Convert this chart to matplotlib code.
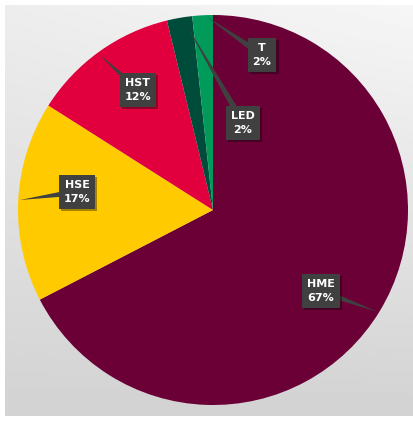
import numpy as np
import matplotlib
matplotlib.use("Agg")
import matplotlib.pyplot as plt
from matplotlib.patches import Polygon
import matplotlib.patheffects as pe

# ---- data ----
categories = ["HME", "HSE", "HST", "LED", "T"]
values = [67.4, 16.6, 12.2, 2.1, 1.7]
colors = ["#6B0036", "#FFCB00", "#E1003D", "#004C3A", "#009B5B"]
# label box centres and pointer tips in pixel coords (x from left, y from top)
label_pos = [(321, 291), (77, 192), (138, 90), (243, 123), (262, 55)]
tip_pos = [(378, 312), (20, 200), (100, 55), (186, 24), (207, 17)]

W, H = 413, 421
fig = plt.figure(figsize=(W / 100, H / 100), dpi=100)
fig.patch.set_facecolor("white")

# background panel with gradient
bg = fig.add_axes([5 / W, 5 / H, 408 / W, 411 / H])
yy, xx = np.mgrid[0:1:200j, 0:1:200j]
v = 0.965 - 0.14 * yy - 0.035 * (1 - xx) * (1 - yy)
bg.imshow(v, cmap="gray", vmin=0, vmax=1, aspect="auto", extent=[0, 1, 1, 0])
bg.set_axis_off()

cx, cy, R = 213, 210, 195
ax = fig.add_axes([(cx - R) / W, (H - cy - R) / H, 2 * R / W, 2 * R / H])
ax.pie(values, colors=colors, startangle=90, counterclock=False, radius=1,
       wedgeprops=dict(linewidth=0))
ax.set_xlim(-1, 1)
ax.set_ylim(-1, 1)
ax.set_aspect("auto")
ax.set_axis_off()


def to_data(p):
    return ((p[0] - cx) / R, (cy - p[1]) / R)


total = sum(values)
for cat, val, lp, tp in zip(categories, values, label_pos, tip_pos):
    lx, ly = to_data(lp)
    tx, ty = to_data(tp)
    d = np.array([tx - lx, ty - ly])
    n = np.array([-d[1], d[0]]) / np.linalg.norm(d)
    w = 3.5 / R
    tri = Polygon([(lx + n[0] * w, ly + n[1] * w), (lx - n[0] * w, ly - n[1] * w), (tx, ty)],
                  closed=True, fc="#404040", ec="none", zorder=5, clip_on=False)
    ax.add_patch(tri)
    pct = f"{round(val / total * 100):.0f}%"
    t = ax.text(lx, ly, f"{cat}\n{pct}", ha="center", va="center", color="white",
                fontsize=8, fontweight="bold", family="Liberation Sans Narrow",
                linespacing=1.6, zorder=6,
                bbox=dict(boxstyle="square,pad=0.45", fc="#404040", ec="none"))
    t.get_bbox_patch().set_path_effects([
        pe.SimplePatchShadow(offset=(1.5, -1.5), shadow_rgbFace="black", alpha=0.35),
        pe.Normal()])

fig.savefig("out.png", dpi=100, facecolor="white")
